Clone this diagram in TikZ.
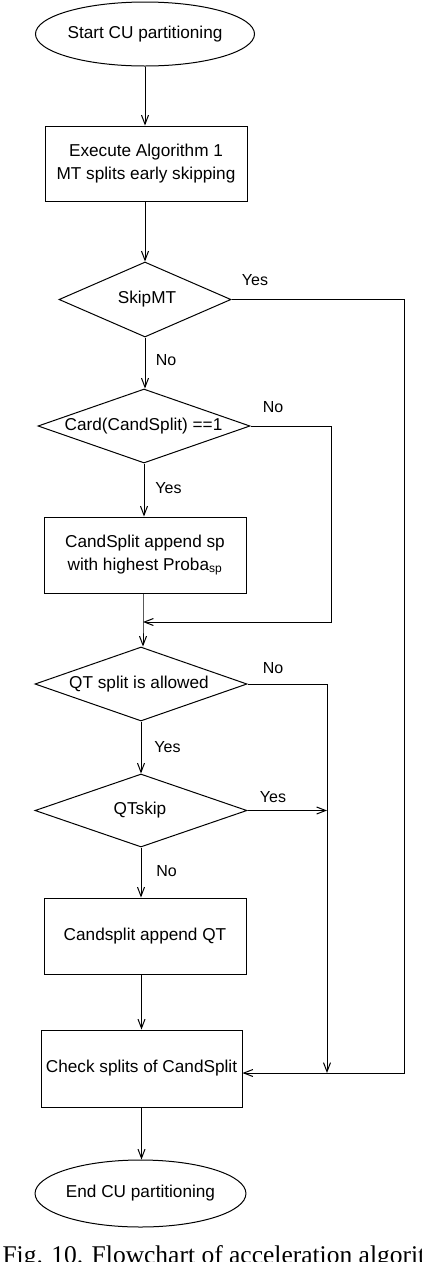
\documentclass[tikz,border=0pt]{standalone}
\usepackage{fontspec}
\setmainfont{Liberation Sans}
\newfontfamily\capfont{Liberation Serif}
\usetikzlibrary{shapes.geometric,arrows.meta}
\begin{document}
\begin{tikzpicture}[x=1pt,y=-1pt,
  line width=1pt,
  >={Straight Barb[length=9pt,width=7pt]},
  txt/.style={font=\fontsize{17.2}{23}\selectfont, align=center},
  term/.style={draw, ellipse, inner sep=0pt, txt},
  proc/.style={draw, rectangle, inner sep=0pt, txt},
  dia/.style={draw, diamond, inner sep=0pt},
  dtext/.style={txt, inner sep=0pt},
  lab/.style={font=\fontsize{16}{18}\selectfont, inner sep=0pt},
  flow/.style={->}
]
\useasboundingbox (0,0) rectangle (422,1262);

% nodes
\node[term, minimum width=186pt, minimum height=64pt] (start) at (145,34) {Start CU partitioning};
\node[proc, minimum width=202pt, minimum height=75pt] (exec) at (146,163.5) {Execute Algorithm 1\\MT splits early skipping};
\node[dia, minimum width=172pt, minimum height=75pt] (skip) at (145,299.5) {};
\node[dtext] (skipt) at (147,299.5) {SkipMT};
\node[dia, minimum width=212pt, minimum height=74pt] (card) at (144,426) {};
\node[dtext] (cardt) at (143.5,426) {Card(CandSplit) ==1};
\node[proc, minimum width=202pt, minimum height=76pt] (cand) at (145,555) {CandSplit append sp\\with highest Proba\textsubscript{sp}};
\node[dia, minimum width=212pt, minimum height=74pt] (qt) at (141,684) {};
\node[dtext] (qtt) at (139,684) {QT split is allowed};
\node[dia, minimum width=212pt, minimum height=73pt] (qtskip) at (141,810.5) {};
\node[dtext] (qtskipt) at (140,810.5) {QTskip};
\node[proc, minimum width=202pt, minimum height=76pt] (append) at (145,936) {Candsplit append QT};
\node[proc, minimum width=201pt, minimum height=77pt] (check) at (141.5,1068.5) {Check splits of CandSplit};
\node[term, minimum width=185pt, minimum height=67pt] (end) at (140.5,1193.5) {End CU partitioning};

% helper coordinates
\coordinate (j1) at (143,622);
\coordinate (farR) at (404,0);
\coordinate (midR) at (331,0);
\coordinate (qtR) at (327,0);
\coordinate (jr) at (327,1073);

% labels
\node[lab] (l1) at (255,280) {Yes};
\node[lab] (l2) at (166,360) {No};
\node[lab] (l3) at (273,407) {No};
\node[lab] (l4) at (168.5,488) {Yes};
\node[lab] (l5) at (273,668) {No};
\node[lab] (l6) at (167.5,747) {Yes};
\node[lab] (l7) at (273,797) {Yes};
\node[lab] (l8) at (166.5,871) {No};

% connectors
\draw[flow] (start.south) -- (start.south |- exec.north);
\draw[flow] (skip.south |- exec.south) -- (skip.north);
\draw[flow] (skip.south) -- (card.north -| skip.south);
\draw[flow] (card.south) -- (cand.north -| card.south);
\draw[flow] (j1 |- cand.south) -- (j1) -- (j1 |- qt.north);
\draw[flow] (card.east) -- (card.east -| midR) -- (j1 -| midR) -- (j1);
\draw[flow] (skip.east) -- (skip.east -| farR) -- (jr -| farR) -- (check.east |- jr);
\draw[flow] (qt.east) -- (qt.east -| qtR) -- (jr);
\draw[flow] (qt.south) -- (qtskip.north);
\draw[flow] (qtskip.east) -- (qtskip.east -| qtR);
\draw[flow] (qtskip.south) -- (append.north -| qtskip.south);
\draw[flow] (append.south -| check.north) -- (check.north);
\draw[flow] (check.south) -- (end.north -| check.south);

% caption (cut off at the bottom edge)
\node[anchor=base west, inner sep=0pt, font=\capfont\fontsize{25.5}{28}\selectfont] (cap) at (2,1263) {Fig. 10. Flowchart of acceleration algorithm};
\end{tikzpicture}
\end{document}
